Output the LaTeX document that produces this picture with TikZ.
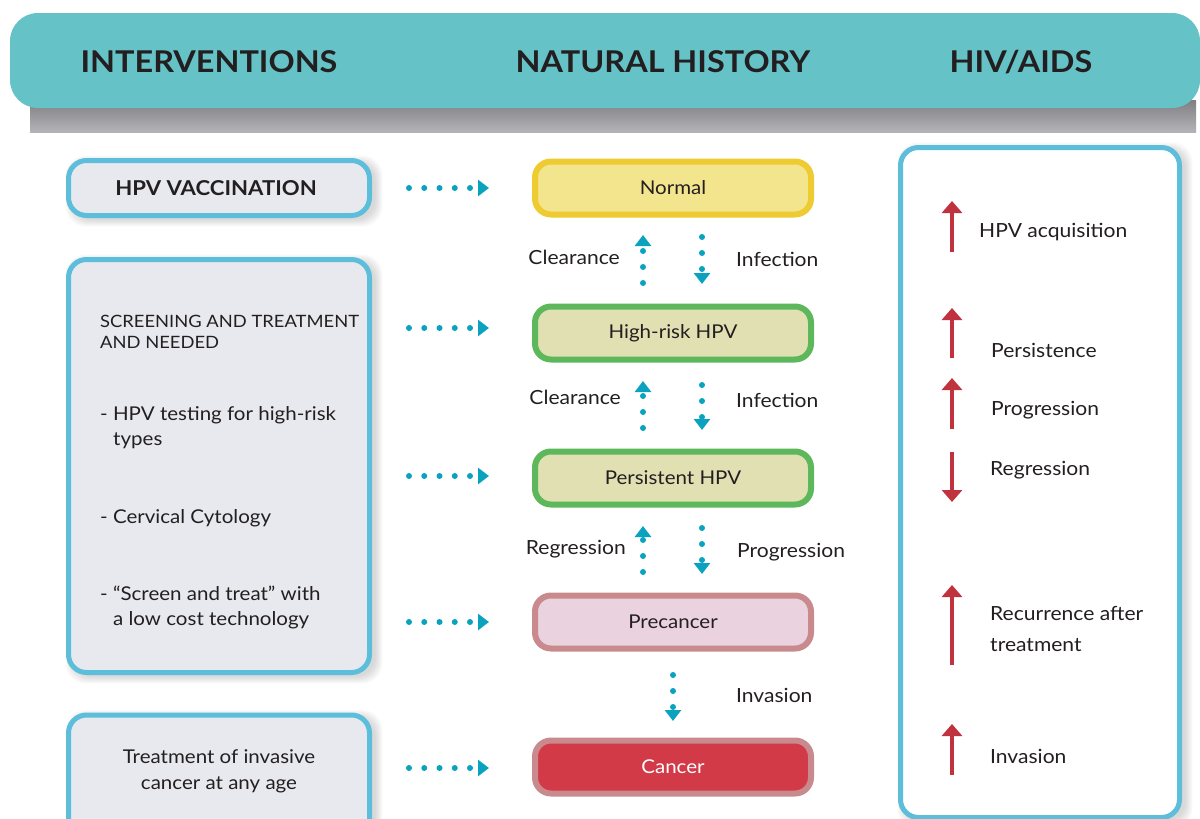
\documentclass[tikz,border=0pt]{standalone}
\usepackage{fontspec}
\setmainfont{Lato}[FakeStretch=1.08]
\usetikzlibrary{arrows.meta}
\definecolor{hdrteal}{HTML}{65C3C7}
\definecolor{lblue}{HTML}{5CBEDA}
\definecolor{lgray}{HTML}{E8E9EE}
\definecolor{dotc}{HTML}{0AA2BF}
\definecolor{txtc}{HTML}{231F20}
\definecolor{normfill}{HTML}{F3E48E}
\definecolor{normdraw}{HTML}{EECB30}
\definecolor{hpvfill}{HTML}{E0E0B3}
\definecolor{hpvdraw}{HTML}{5CB85A}
\definecolor{prefill}{HTML}{EAD2DE}
\definecolor{predraw}{HTML}{C88A8C}
\definecolor{cancfill}{HTML}{D23A48}
\definecolor{redc}{HTML}{C1323F}
\definecolor{shadowtop}{HTML}{7F7E83}
\definecolor{shadowbot}{HTML}{B4B3B8}
\newcommand\mysoftshadow[4]{%
  \foreach \i in {1,...,8}{%
    \fill[black, opacity=0.02, rounded corners=20pt] ({#1+5-\i},{#2+3-\i}) rectangle ({#3+5+\i},{#4+3+\i});
  }}
\begin{document}
\begin{tikzpicture}[x=1pt,y=-1pt,
  every node/.style={text=txtc, font=\fontsize{19}{23}\selectfont},
  hdrtext/.style={font=\fontsize{30}{34}\selectfont\bfseries},
  lbox/.style={draw=lblue, fill=lgray, line width=5pt, rounded corners=18pt, minimum width=301pt, inner sep=0pt},
  mbox/.style={line width=6pt, rounded corners=16pt, minimum width=276pt, minimum height=53pt, inner sep=0pt},
  dotarrow/.style={draw=dotc, line width=6pt, line cap=round, dash pattern=on 0pt off 16pt, -{Triangle[width=16pt,length=11pt]}},
  ldotarrow/.style={dotarrow, dash pattern=on 0pt off 15.25pt},
  redarrow/.style={draw=redc, line width=3.5pt, -{Triangle[width=20pt,length=12pt]}},
  lbl/.style={font=\fontsize{19.5}{23}\selectfont, inner sep=0pt},
  ltxt/.style={anchor=base west, inner sep=0pt},
  rlbl/.style={font=\fontsize{19.5}{22}\selectfont, anchor=base west, inner sep=0pt},
]
\useasboundingbox (0,0) rectangle (1200,819);
% soft shadows
\mysoftshadow{68.5}{160.5}{369.5}{215.5}
\mysoftshadow{68.5}{259.5}{369.5}{672.5}
\mysoftshadow{68.5}{715}{369.5}{845}
\mysoftshadow{900.5}{147.5}{1179.5}{817.5}
% header
\shade[top color=shadowtop, bottom color=shadowbot] (30,100) rectangle (1196,132);
\node[fill=hdrteal, rounded corners=28pt, minimum width=1190pt, minimum height=95pt, inner sep=0pt] (H) at (605,60.5) {};
\node[hdrtext] (h1) at (209,62) {INTERVENTIONS};
\node[hdrtext] (h2) at (663,62) {NATURAL HISTORY};
\node[hdrtext] (h3) at (1021,62) {HIV/AIDS};

% left boxes
\node[lbox, minimum height=55pt] (L1) at (219,188) {};
\node[font=\fontsize{20.5}{24}\selectfont\bfseries] (t1) at (216,188) {HPV VACCINATION};
\node[lbox, minimum height=413pt] (L2) at (219,466) {};
\node[ltxt, font=\fontsize{17}{21}\selectfont] (t2a) at (100,327) {SCREENING AND TREATMENT};
\node[ltxt, font=\fontsize{17}{21}\selectfont] (t2b) at (100,348) {AND NEEDED};
\node[ltxt] (t2c) at (100,420) {- HPV testing for high-risk};
\node[ltxt] (t2d) at (113,445) {types};
\node[ltxt] (t2e) at (100,523) {- Cervical Cytology};
\node[ltxt] (t2f) at (100,600) {- “Screen and treat” with};
\node[ltxt] (t2g) at (113,625) {a low cost technology};
\node[lbox, minimum height=130pt] (L3) at (219,780) {};
\node[align=center, font=\fontsize{19}{26}\selectfont] (t3) at (219,771) {Treatment of invasive\\cancer at any age};

% middle boxes
\node[mbox, draw=normdraw, fill=normfill] (N) at (673,188) {Normal};
\node[mbox, draw=hpvdraw, fill=hpvfill] (HR) at (673,333) {High-risk HPV};
\node[mbox, draw=hpvdraw, fill=hpvfill] (P) at (673,478) {Persistent HPV};
\node[mbox, draw=predraw, fill=prefill] (PC) at (673,622) {Precancer};
\node[mbox, draw=predraw, fill=cancfill, text=white] (C) at (673,767) {Cancer};

% left dotted arrows
\coordinate (s1) at (409,188);
\coordinate (s2) at (409,328);
\coordinate (s3) at (409,476);
\coordinate (s4) at (409,622);
\coordinate (s5) at (409,768);
\draw[ldotarrow, shorten >=43pt] (s1) -- (s1 -| N.west);
\draw[ldotarrow, shorten >=43pt] (s2) -- (s2 -| HR.west);
\draw[ldotarrow, shorten >=43pt] (s3) -- (s3 -| P.west);
\draw[ldotarrow, shorten >=43pt] (s4) -- (s4 -| PC.west);
\draw[ldotarrow, shorten >=43pt] (s5) -- (s5 -| C.west);

% vertical arrows
\draw[dotarrow, shorten <=20.5pt, shorten >=17.5pt] ([xshift=-30pt]HR.north) -- ([xshift=-30pt]N.south);
\draw[dotarrow, shorten <=19.5pt, shorten >=19.5pt] ([xshift=29pt]N.south) -- ([xshift=29pt]HR.north);
\draw[dotarrow, shorten <=20.5pt, shorten >=18.5pt] ([xshift=-30pt]P.north) -- ([xshift=-30pt]HR.south);
\draw[dotarrow, shorten <=22.5pt, shorten >=18.5pt] ([xshift=29pt]HR.south) -- ([xshift=29pt]P.north);
\draw[dotarrow, shorten <=20.5pt, shorten >=18.5pt] ([xshift=-30pt]PC.north) -- ([xshift=-30pt]P.south);
\draw[dotarrow, shorten <=20.5pt, shorten >=18.5pt] ([xshift=29pt]P.south) -- ([xshift=29pt]PC.north);
\draw[dotarrow, shorten <=23.5pt, shorten >=16.5pt] (PC.south) -- (C.north);

% arrow labels
\node[lbl, anchor=base east] (c1) at (620,264) {Clearance};
\node[lbl, anchor=base west] (i1) at (736,266) {Infection};
\node[lbl, anchor=base east] (c2) at (621,404) {Clearance};
\node[lbl, anchor=base west] (i2) at (736,407) {Infection};
\node[lbl, anchor=base east] (r3) at (626,554) {Regression};
\node[lbl, anchor=base west] (p3) at (737,557) {Progression};
\node[lbl, anchor=base west] (inv) at (736,702) {Invasion};

% right panel
\node[draw=lblue, fill=white, line width=5pt, rounded corners=18pt, minimum width=279pt, minimum height=670pt, inner sep=0pt] (R) at (1040,482.5) {};
\coordinate (a1s) at (952,252); \coordinate (a1e) at (952,201);
\coordinate (a2s) at (952,358); \coordinate (a2e) at (952,308);
\coordinate (a3s) at (952,429); \coordinate (a3e) at (952,378);
\coordinate (a4s) at (952,452); \coordinate (a4e) at (952,502);
\coordinate (a5s) at (952,665); \coordinate (a5e) at (952,585);
\coordinate (a6s) at (952,775); \coordinate (a6e) at (952,724);
\draw[redarrow] (a1s) -- (a1e);
\draw[redarrow] (a2s) -- (a2e);
\draw[redarrow] (a3s) -- (a3e);
\draw[redarrow] (a4s) -- (a4e);
\draw[redarrow] (a5s) -- (a5e);
\draw[redarrow] (a6s) -- (a6e);
\node[rlbl] (r1) at (979,237) {HPV acquisition};
\node[rlbl] (r2) at (991,357) {Persistence};
\node[rlbl] (r3b) at (991,415) {Progression};
\node[rlbl] (r4) at (990,475) {Regression};
\node[rlbl] (r5) at (990,620) {Recurrence after};
\node[rlbl] (r5b) at (990,651) {treatment};
\node[rlbl] (r6) at (990,763) {Invasion};
\end{tikzpicture}
\end{document}
